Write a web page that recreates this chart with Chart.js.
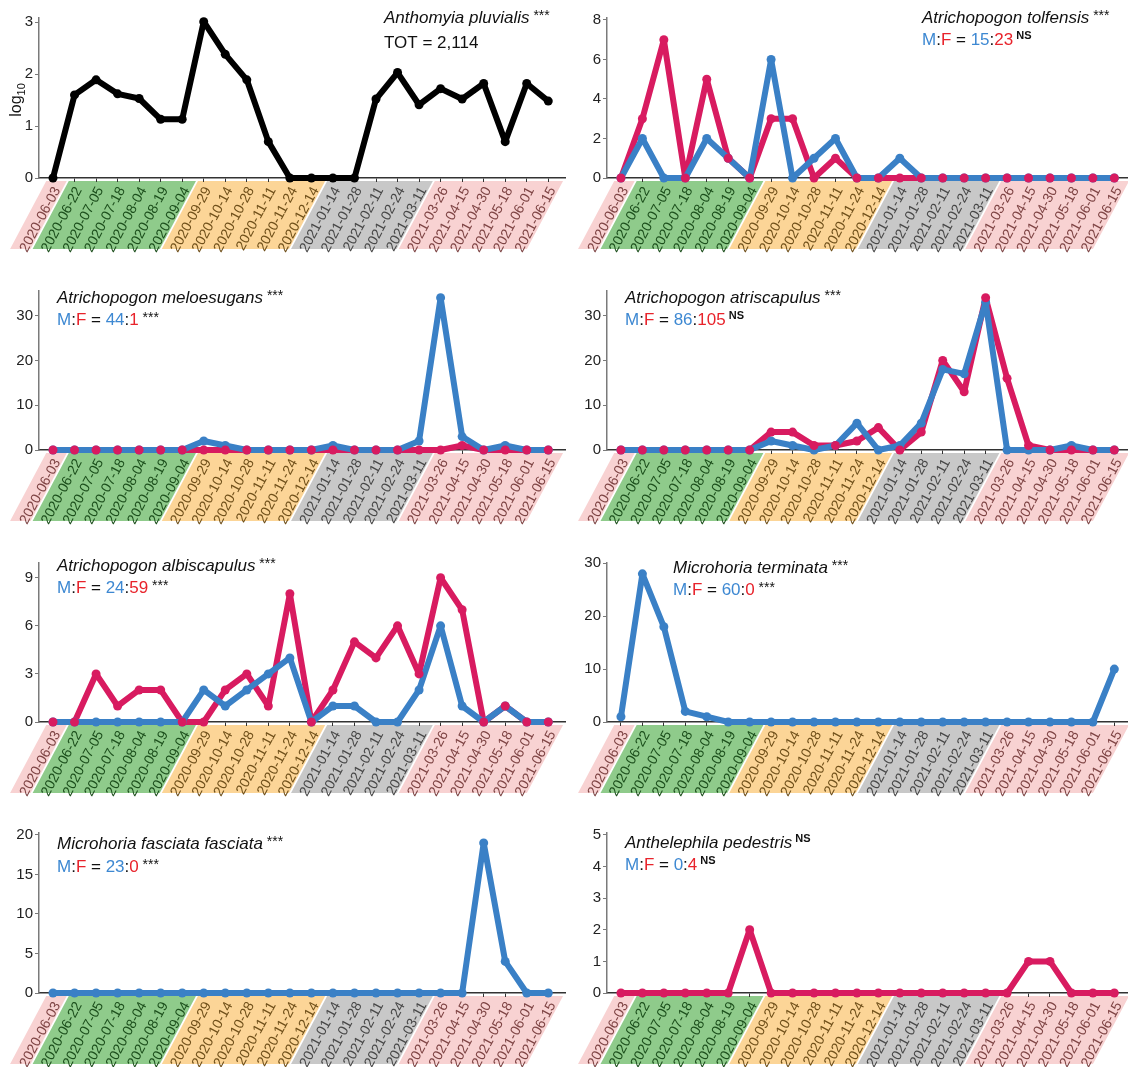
<!DOCTYPE html>
<html lang="en">
<head>
<meta charset="UTF-8">
<title>Seasonal captures by sex</title>
<script src="https://cdn.jsdelivr.net/npm/chart.js"></script>
<style>
  body { margin: 0; background: #fff; width: 1128px; height: 1067px; overflow: hidden; position: relative; }
  .panel { position: absolute; }
</style>
</head>
<body>
<div id="wrap"></div>
<script>
// sampling dates and the season each one falls in
const dates = ['2020-06-03', '2020-06-22', '2020-07-05', '2020-07-18', '2020-08-04', '2020-08-19', '2020-09-04',
  '2020-09-29', '2020-10-14', '2020-10-28', '2020-11-11', '2020-11-24', '2020-12-14',
  '2021-01-14', '2021-01-28', '2021-02-11', '2021-02-24', '2021-03-11',
  '2021-03-26', '2021-04-15', '2021-04-30', '2021-05-18', '2021-06-01', '2021-06-15'];
const seasons = ['sp', 'su', 'su', 'su', 'su', 'su', 'su', 'au', 'au', 'au', 'au', 'au', 'au',
  'wi', 'wi', 'wi', 'wi', 'wi', 'sp', 'sp', 'sp', 'sp', 'sp', 'sp'];

// counts per date (M = males, F = females); first panel is log10 of total
const pluvialisLog = [0, 1.60, 1.89, 1.62, 1.53, 1.13, 1.13, 3.01, 2.38, 1.89, 0.70, 0, 0, 0, 0, 1.52, 2.03, 1.41, 1.72, 1.52, 1.82, 0.70, 1.82, 1.48];
const tolfensisM = [0, 2, 0, 0, 2, 1, 0, 6, 0, 1, 2, 0, 0, 1, 0, 0, 0, 0, 0, 0, 0, 0, 0, 0];
const tolfensisF = [0, 3, 7, 0, 5, 1, 0, 3, 3, 0, 1, 0, 0, 0, 0, 0, 0, 0, 0, 0, 0, 0, 0, 0];
const meloesugansM = [0, 0, 0, 0, 0, 0, 0, 2, 1, 0, 0, 0, 0, 1, 0, 0, 0, 2, 34, 3, 0, 1, 0, 0];
const meloesugansF = [0, 0, 0, 0, 0, 0, 0, 0, 0, 0, 0, 0, 0, 0, 0, 0, 0, 0, 0, 1, 0, 0, 0, 0];
const atriscapulusM = [0, 0, 0, 0, 0, 0, 0, 2, 1, 0, 1, 6, 0, 1, 6, 18, 17, 33, 0, 0, 0, 1, 0, 0];
const atriscapulusF = [0, 0, 0, 0, 0, 0, 0, 4, 4, 1, 1, 2, 5, 0, 4, 20, 13, 34, 16, 1, 0, 0, 0, 0];
const albiscapulusM = [0, 0, 0, 0, 0, 0, 0, 2, 1, 2, 3, 4, 0, 1, 1, 0, 0, 2, 6, 1, 0, 1, 0, 0];
const albiscapulusF = [0, 0, 3, 1, 2, 2, 0, 0, 2, 3, 1, 8, 0, 2, 5, 4, 6, 3, 9, 7, 0, 1, 0, 0];
const terminataM = [1, 28, 18, 2, 1, 0, 0, 0, 0, 0, 0, 0, 0, 0, 0, 0, 0, 0, 0, 0, 0, 0, 0, 10];
const fasciataM = [0, 0, 0, 0, 0, 0, 0, 0, 0, 0, 0, 0, 0, 0, 0, 0, 0, 0, 0, 0, 19, 4, 0, 0];
const pedestrisF = [0, 0, 0, 0, 0, 0, 2, 0, 0, 0, 0, 0, 0, 0, 0, 0, 0, 0, 0, 1, 1, 0, 0, 0];

const BLUE = '#3a80c6', RED = '#d81b60', M_TXT = '#3d88d2', F_TXT = '#e8232b';
const bandFill = { sp: '#f8d2d2', su: '#8fcb8b', au: '#fcd597', wi: '#c8c8c8' };
const bandText = { sp: '#7e4444', su: '#1c4f1c', au: '#70501a', wi: '#474747' };

// panel layout: col 0/1, row 0..3, y range, ticks, title spot
const colX = [0, 564], colW = [570, 572], axisLeft = [39, 43];
const rowY = [0, 262, 532, 800], rowTop = [18, 291, 563, 833], rowBottom = [178, 450, 722, 993];
const H = 267;
const X_MIN = -0.65, X_MAX = 23.8, LABEL_SHIFT = 0.2; // labels sit a little right of each tick
const ANGLE = 62;

const panels = [
  { col: 0, row: 0, name: 'Anthomyia pluvialis', sig: '***', tot: '2,114', total: pluvialisLog, ymax: 3.08, ticks: [0, 1, 2, 3], tx: 384, ty: [23, 48] },
  { col: 1, row: 0, name: 'Atrichopogon tolfensis', sig: '***', m: tolfensisM, f: tolfensisF, mf: ['15', '23', 'NS'], ymax: 8.1, ticks: [0, 2, 4, 6, 8], tx: 922, ty: [23, 45] },
  { col: 0, row: 1, name: 'Atrichopogon meloesugans', sig: '***', m: meloesugansM, f: meloesugansF, mf: ['44', '1', '***'], ymax: 35.5, ticks: [0, 10, 20, 30], tx: 57, ty: [303, 325] },
  { col: 1, row: 1, name: 'Atrichopogon atriscapulus', sig: '***', m: atriscapulusM, f: atriscapulusF, mf: ['86', '105', 'NS'], ymax: 35.5, ticks: [0, 10, 20, 30], tx: 625, ty: [303, 325] },
  { col: 0, row: 2, name: 'Atrichopogon albiscapulus', sig: '***', m: albiscapulusM, f: albiscapulusF, mf: ['24', '59', '***'], ymax: 9.92, ticks: [0, 3, 6, 9], tx: 57, ty: [571, 593] },
  { col: 1, row: 2, name: 'Microhoria terminata', sig: '***', m: terminataM, mf: ['60', '0', '***'], ymax: 30.05, ticks: [0, 10, 20, 30], tx: 673, ty: [573, 595] },
  { col: 0, row: 3, name: 'Microhoria fasciata fasciata', sig: '***', m: fasciataM, mf: ['23', '0', '***'], ymax: 20.25, ticks: [0, 5, 10, 15, 20], tx: 57, ty: [849, 872] },
  { col: 1, row: 3, name: 'Anthelephila pedestris', sig: 'NS', f: pedestrisF, mf: ['0', '4', 'NS'], ymax: 5.06, ticks: [0, 1, 2, 3, 4, 5], tx: 625, ty: [848, 870] }
];

const FONT = '"Liberation Sans", Arial, sans-serif';

function pts(arr) { return arr.map((v, i) => ({ x: i, y: v })); }

function drawRuns(ctx, x, y, runs) {
  runs.forEach(r => {
    ctx.font = r.font;
    ctx.fillStyle = r.color || '#111';
    ctx.fillText(r.t, x, y + (r.dy || 0));
    x += ctx.measureText(r.t).width;
  });
}

function supRun(t) {
  return t === 'NS'
    ? { t: ' NS', font: 'bold 11px ' + FONT, dy: -6 }
    : { t: ' ***', font: '14px ' + FONT, dy: -3 };
}

// diagonal season bands behind the rotated date labels
const bandPlugin = {
  id: 'bands',
  beforeDraw(chart) {
    const ctx = chart.ctx, xs = chart.scales.x;
    const y0 = chart.chartArea.bottom + 3, y1 = chart.chartArea.bottom + 71;
    const shift = (y1 - y0) / Math.tan(ANGLE * Math.PI / 180);
    let start = 0;
    ctx.save();
    for (let i = 1; i <= seasons.length; i++) {
      if (i === seasons.length || seasons[i] !== seasons[start]) {
        const a = xs.getPixelForValue(start - 0.5) + 4 + (start > 0 ? 1 : 0);
        const b = xs.getPixelForValue(i - 0.5) + 4 - (i < seasons.length ? 1 : 0);
        ctx.beginPath();
        ctx.moveTo(a, y0); ctx.lineTo(b, y0); ctx.lineTo(b - shift, y1); ctx.lineTo(a - shift, y1);
        ctx.closePath();
        ctx.fillStyle = bandFill[seasons[start]];
        ctx.fill();
        start = i;
      }
    }
    ctx.restore();
  }
};

const titlePlugin = {
  id: 'titles',
  afterDraw(chart) {
    const p = chart.options.plugins.titles.panel;
    const ctx = chart.ctx;
    const ox = colX[p.col], oy = rowY[p.row];
    ctx.save();
    ctx.textBaseline = 'alphabetic';
    ctx.textAlign = 'left';
    drawRuns(ctx, p.tx - ox, p.ty[0] - oy, [
      { t: p.name, font: 'italic 17px ' + FONT },
      supRun(p.sig)
    ]);
    const f17 = '17px ' + FONT;
    if (p.tot) {
      drawRuns(ctx, p.tx - ox, p.ty[1] - oy, [{ t: 'TOT = ' + p.tot, font: f17 }]);
    } else {
      drawRuns(ctx, p.tx - ox, p.ty[1] - oy, [
        { t: 'M', font: f17, color: M_TXT },
        { t: ':', font: f17 },
        { t: 'F', font: f17, color: F_TXT },
        { t: ' = ', font: f17 },
        { t: p.mf[0], font: f17, color: M_TXT },
        { t: ':', font: f17 },
        { t: p.mf[1], font: f17, color: F_TXT },
        supRun(p.mf[2])
      ]);
    }
    if (p.tot) {
      // y axis title log10
      ctx.translate(21, 100);
      ctx.rotate(-Math.PI / 2);
      ctx.font = '16px ' + FONT;
      ctx.fillStyle = '#111';
      const w1 = ctx.measureText('log').width;
      ctx.font = '11px ' + FONT;
      const w2 = ctx.measureText('10').width;
      ctx.font = '16px ' + FONT;
      ctx.fillText('log', -(w1 + w2) / 2, 0);
      ctx.font = '11px ' + FONT;
      ctx.fillText('10', -(w1 + w2) / 2 + w1, 4);
    }
    ctx.restore();
  }
};

function lineSet(arr, color, order) {
  return { data: pts(arr), borderColor: color, backgroundColor: color, borderWidth: 6, pointRadius: 0,
    borderJoinStyle: 'round', borderCapStyle: 'round', tension: 0, order: order, clip: false };
}
function dotSet(arr, color, order) {
  return { data: pts(arr), showLine: false, pointRadius: 4.5, pointBorderWidth: 0,
    pointBackgroundColor: color, borderColor: color, order: order, clip: false };
}

function noPad(s) { s.paddingLeft = 0; s.paddingRight = 0; s.paddingTop = 0; s.paddingBottom = 0; }

const wrap = document.getElementById('wrap');
panels.forEach((p, k) => {
  const div = document.createElement('div');
  div.className = 'panel';
  div.style.left = colX[p.col] + 'px';
  div.style.top = rowY[p.row] + 'px';
  div.style.width = colW[p.col] + 'px';
  div.style.height = H + 'px';
  const cv = document.createElement('canvas');
  div.appendChild(cv);
  wrap.appendChild(div);

  const datasets = [];
  if (p.total) {
    datasets.push(lineSet(p.total, '#000', 2));
    datasets.push(dotSet(p.total, '#000', 1));
  } else {
    if (p.f) datasets.push(lineSet(p.f, RED, 4));
    if (p.m) datasets.push(lineSet(p.m, BLUE, 3));
    if (p.m) datasets.push(dotSet(p.m, BLUE, 2));
    if (p.f) datasets.push(dotSet(p.f, RED, 1));
  }

  const padTop = rowTop[p.row] - rowY[p.row];
  const xHeight = H - (rowBottom[p.row] - rowY[p.row]);
  const plotRight = axisLeft[p.col] + 529;

  new Chart(cv, {
    type: 'line',
    data: { datasets: datasets },
    options: {
      responsive: true,
      maintainAspectRatio: false,
      animation: false,
      layout: { padding: { top: padTop, left: 0, right: colW[p.col] - plotRight, bottom: 0 } },
      plugins: {
        legend: { display: false },
        tooltip: { enabled: false },
        titles: { panel: p }
      },
      scales: {
        x: {
          type: 'linear',
          weight: 0,
          min: X_MIN,
          max: X_MAX,
          afterBuildTicks: s => { s.ticks = dates.map((d, i) => ({ value: i })); },
          afterFit: s => { s.height = 4; noPad(s); },
          border: { display: true, color: '#333', width: 1.5 },
          grid: { drawOnChartArea: false, drawTicks: true, tickLength: 4, color: '#333' },
          ticks: { display: false }
        },
        // label axis: same dates, drawn slightly to the right like the reference
        xLabels: {
          type: 'linear',
          position: 'bottom',
          weight: 1,
          min: X_MIN - LABEL_SHIFT,
          max: X_MAX - LABEL_SHIFT,
          afterBuildTicks: s => { s.ticks = dates.map((d, i) => ({ value: i })); },
          afterFit: s => { s.height = xHeight - 4; noPad(s); },
          border: { display: false },
          grid: { display: false, drawTicks: false, tickLength: 0 },
          ticks: {
            autoSkip: false,
            minRotation: ANGLE,
            maxRotation: ANGLE,
            padding: 2,
            font: { family: FONT, size: 14 },
            color: c => bandText[seasons[c.index]],
            callback: v => dates[v]
          }
        },
        y: {
          min: 0,
          max: p.ymax,
          afterBuildTicks: s => { s.ticks = p.ticks.map(v => ({ value: v })); },
          afterFit: s => { s.width = axisLeft[p.col]; noPad(s); },
          border: { display: true, color: '#7a7a7a', width: 1.5 },
          grid: { drawOnChartArea: false, drawTicks: true, tickLength: 4, color: '#7a7a7a' },
          ticks: { padding: 2, font: { family: FONT, size: 15 }, color: '#222' }
        }
      }
    },
    plugins: [bandPlugin, titlePlugin]
  });
});
</script>
</body>
</html>
